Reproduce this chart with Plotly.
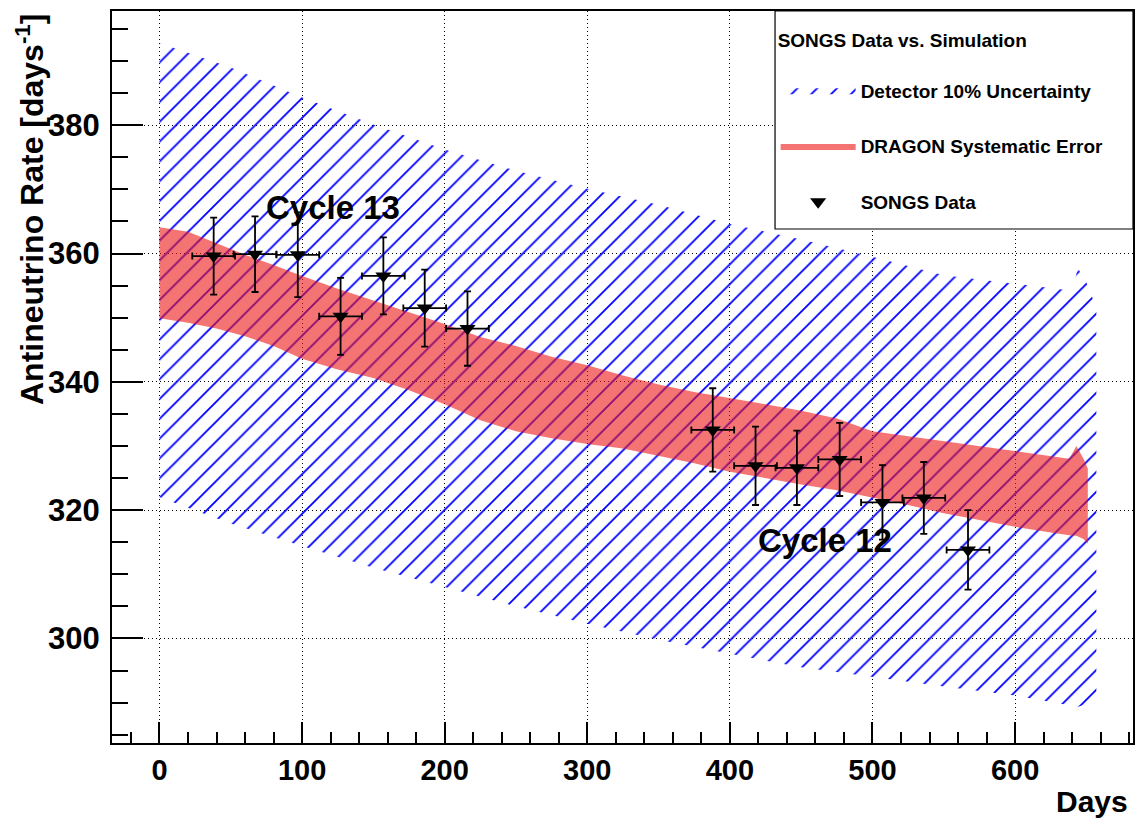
import plotly.graph_objects as go

# ---- data ----
# SONGS data points
data_days = [38, 67, 97, 127, 157, 186, 216, 388, 418, 447, 477, 507, 536, 567]
data_rate = [359.6, 359.9, 359.8, 350.2, 356.5, 351.5, 348.3, 332.5, 326.9, 326.6, 327.9, 321.2, 321.9, 313.8]
data_rate_err = [6.0, 5.9, 6.6, 6.0, 6.0, 6.0, 5.8, 6.5, 6.1, 5.8, 5.7, 5.8, 5.6, 6.2]
data_days_err = [15, 15, 15, 15, 15, 15, 15, 15, 15, 15, 15, 15, 15, 15]

# Detector 10% uncertainty band (blue hatch)
blue_days = [0, 50, 100, 150, 200, 250, 300, 350, 400, 450, 500, 550, 600, 640, 644, 650, 657]
blue_upper = [392.8, 389.0, 384.3, 380.1, 376.2, 372.9, 370.1, 367.6, 364.6, 362.2, 359.5, 356.6, 355.3, 354.2, 357.7, 355.5, 351.5]
blue_lower = [322.0, 317.9, 314.4, 311.0, 308.0, 305.0, 302.3, 299.8, 297.6, 295.5, 294.0, 292.5, 291.1, 289.5, 289.3, 289.8, 291.5]

# DRAGON systematic error band (red)
red_days = [0, 20, 40, 60, 80, 100, 125, 150, 175, 200, 225, 250, 275, 300, 325, 350, 375,
            400, 425, 450, 475, 500, 525, 550, 575, 600, 625, 638, 643, 648, 651]
red_upper = [364.1, 363.4, 361.6, 359.8, 358.2, 356.5, 354.5, 352.7, 350.8, 349.0, 347.0, 345.6, 343.9, 342.6, 341.0, 339.6, 338.4,
             337.5, 336.5, 335.5, 334.3, 332.3, 331.5, 330.7, 329.9, 329.1, 328.4, 328.0, 330.0, 328.0, 326.5]
red_lower = [349.9, 349.2, 348.3, 347.1, 345.6, 343.6, 341.9, 340.6, 338.7, 336.5, 334.0, 332.3, 331.2, 330.3, 329.6, 328.4, 327.3,
             326.0, 325.0, 324.0, 323.1, 322.0, 320.8, 319.5, 318.5, 317.4, 316.5, 316.1, 316.0, 315.5, 314.8]

x_ticks = [0, 100, 200, 300, 400, 500, 600]
y_ticks = [300, 320, 340, 360, 380]

FONT = "Liberation Sans"

fig = go.Figure()

fig.add_trace(go.Scatter(
    x=blue_days + blue_days[::-1],
    y=blue_upper + blue_lower[::-1],
    fill="toself",
    mode="lines",
    line=dict(width=0, color="rgba(0,0,255,0)"),
    fillcolor="rgba(0,0,0,0)",
    fillpattern=dict(shape="/", fgcolor="rgb(0,0,255)", fgopacity=1, bgcolor="rgba(0,0,0,0)",
                     size=14, solidity=0.13),
    name="Detector 10% Uncertainty",
    legendgroup="g1",
    hoverinfo="skip",
))

fig.add_trace(go.Scatter(
    x=red_days + red_days[::-1],
    y=red_upper + red_lower[::-1],
    fill="toself",
    mode="lines",
    line=dict(width=0, color="rgba(255,0,0,0)"),
    fillcolor="rgba(236,22,22,0.6)",
    name="DRAGON Systematic Error",
    legendgroup="g2",
    hoverinfo="skip",
))

fig.add_trace(go.Scatter(
    x=data_days,
    y=data_rate,
    mode="markers",
    marker=dict(symbol="triangle-down", size=14, color="black"),
    error_y=dict(type="data", array=data_rate_err, color="black", thickness=1.8, width=3.5),
    error_x=dict(type="data", array=data_days_err, color="black", thickness=1.8, width=3.5),
    name="SONGS Data",
    legendgroup="g3",
))

fig.add_annotation(x=121.5, y=367.2, xref="x", yref="y", text="Cycle 13", showarrow=False,
                   font=dict(family=FONT, size=33, color="black", weight="bold"))
fig.add_annotation(x=467, y=315.3, xref="x", yref="y", text="Cycle 12", showarrow=False,
                   font=dict(family=FONT, size=33, color="black", weight="bold"))

# axis titles placed like ROOT (right/top aligned)
fig.add_annotation(x=0.997, y=-0.08, xref="paper", yref="paper", text="Days", showarrow=False,
                   xanchor="right", yanchor="middle",
                   font=dict(family=FONT, size=30, color="black", weight="bold"))
fig.add_annotation(x=-0.0803, y=1.0, xref="paper", yref="paper",
                   text="Antineutrino Rate [days<sup>-1</sup>]", showarrow=False, textangle=-90,
                   xanchor="center", yanchor="top",
                   font=dict(family=FONT, size=32, color="black", weight="bold"))

# legend frame (drawn as in the reference, legend text/symbols sit on top of it)
fig.add_shape(type="rect", xref="paper", yref="paper", x0=0.6494, x1=1.0, y0=0.7022, y1=1.0,
              fillcolor="white", line=dict(color="black", width=1.2), layer="above")

axis_common = dict(
    showline=True, linecolor="black", linewidth=2, mirror=True,
    ticks="inside", tickcolor="black", tickwidth=1.5,
    showgrid=True, gridcolor="black", griddash="1px,3px", gridwidth=1,
    zeroline=False, automargin=False,
)

fig.update_xaxes(
    range=[-33.3, 682.7], tickvals=x_ticks, ticklen=21,
    tickfont=dict(family=FONT, size=29, color="black", weight="bold"),
    minor=dict(dtick=20, tick0=0, ticks="inside", ticklen=11, tickcolor="black", tickwidth=1.5, showgrid=False),
    ticklabelstandoff=0,
    **axis_common,
)
fig.update_yaxes(
    range=[283.7, 397.8], tickvals=y_ticks, ticklen=31,
    tickfont=dict(family=FONT, size=31, color="black", weight="bold"),
    minor=dict(dtick=5, tick0=0, ticks="inside", ticklen=16, tickcolor="black", tickwidth=1.5, showgrid=False),
    ticklabelstandoff=4,
    **axis_common,
)

fig.update_layout(
    width=1148, height=823,
    margin=dict(l=112, r=15, t=11, b=80),
    paper_bgcolor="white", plot_bgcolor="white",
    legend=dict(
        x=0.650, y=0.985, xanchor="left", yanchor="top",
        bgcolor="rgba(0,0,0,0)", borderwidth=0,
        font=dict(family=FONT, size=19, color="black", weight="bold"),
        title=dict(text="SONGS Data vs. Simulation<br> ",
                   font=dict(family=FONT, size=19, color="black", weight="bold")),
        tracegroupgap=28, itemwidth=75, traceorder="grouped",
    ),
    showlegend=True,
)

fig.write_html("out.html", config={"displayModeBar": False},
               post_script="document.body.style.margin='0';")
